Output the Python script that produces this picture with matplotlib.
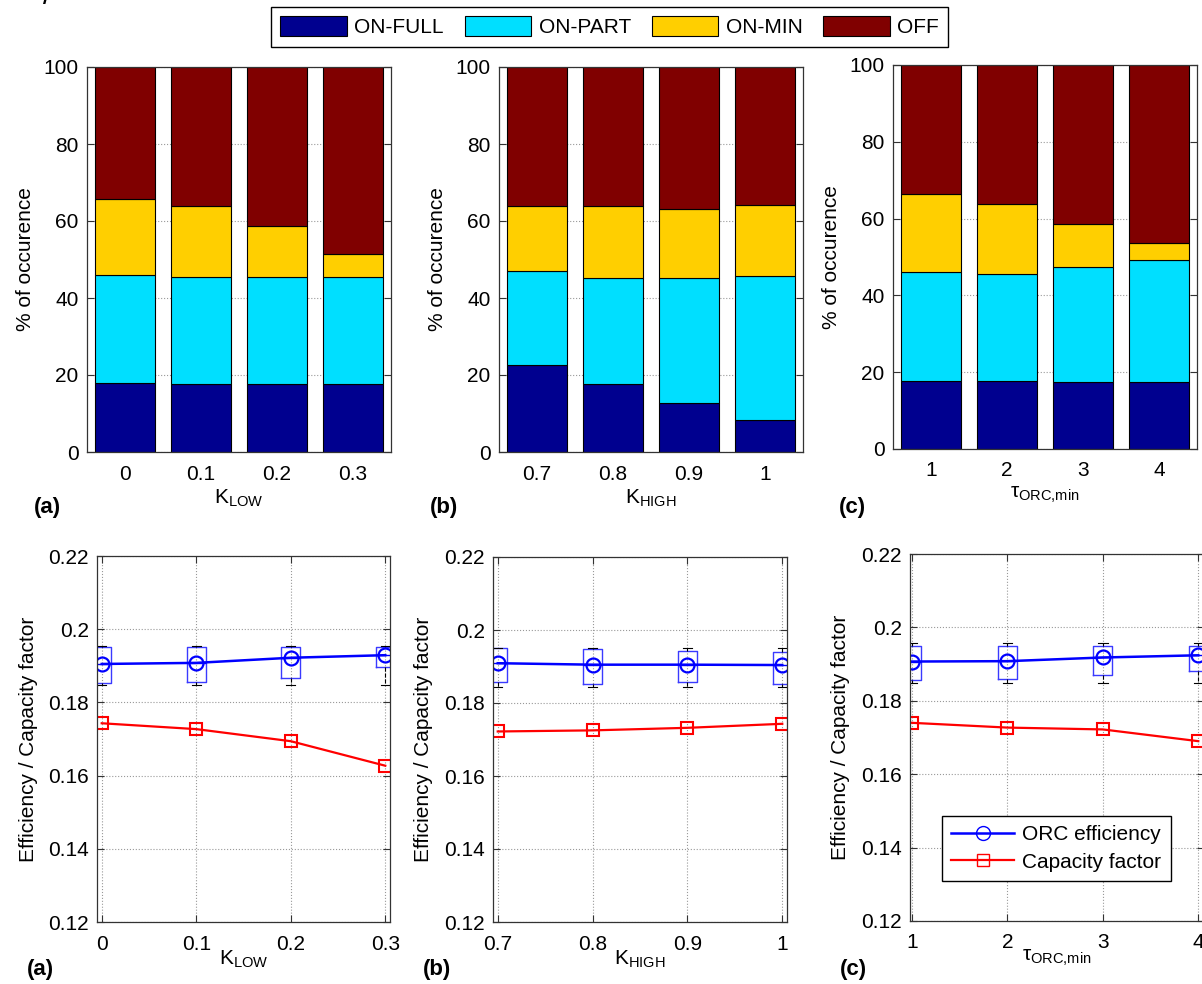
import matplotlib
matplotlib.use('Agg')
import numpy as np
import matplotlib.pyplot as plt
from matplotlib.patches import Patch
from matplotlib.lines import Line2D

plt.rcParams['font.family'] = ['Liberation Sans', 'DejaVu Sans']
plt.rcParams['font.size'] = 15
plt.rcParams['mathtext.default'] = 'regular'

# --- data ---
states = ['ON-FULL', 'ON-PART', 'ON-MIN', 'OFF']
state_colors = ['#00008f', '#00dfff', '#ffcf00', '#800000']

k_low = [0, 0.1, 0.2, 0.3]
k_low_labels = ['0', '0.1', '0.2', '0.3']
k_high = [0.7, 0.8, 0.9, 1.0]
k_high_labels = ['0.7', '0.8', '0.9', '1']
tau_min = [1, 2, 3, 4]
tau_labels = ['1', '2', '3', '4']

# % of occurence per state (stacked)
a_full = [17.8, 17.6, 17.6, 17.6]
a_part = [28.3, 27.9, 27.9, 27.9]
a_min = [19.7, 18.3, 13.1, 5.8]
a_off = [34.2, 36.2, 41.4, 48.7]

b_full = [22.6, 17.6, 12.8, 8.4]
b_part = [24.3, 27.7, 32.5, 37.3]
b_min = [17.1, 18.5, 17.8, 18.5]
b_off = [36.0, 36.2, 36.9, 35.8]

c_full = [17.8, 17.6, 17.4, 17.4]
c_part = [28.2, 27.9, 30.0, 31.9]
c_min = [20.5, 18.3, 11.3, 4.4]
c_off = [33.5, 36.2, 41.3, 46.3]

# ORC efficiency (mean + box stats) and capacity factor
a_eff = [0.1905, 0.1908, 0.1922, 0.1929]
a_q1 = [0.1852, 0.1855, 0.1868, 0.1896]
a_q3 = [0.1951, 0.1951, 0.1951, 0.1951]
a_lo = [0.1848, 0.1848, 0.1848, 0.1848]
a_hi = [0.1954, 0.1954, 0.1954, 0.1954]
a_cap = [0.1743, 0.1727, 0.1694, 0.1627]

b_eff = [0.1909, 0.1905, 0.1905, 0.1904]
b_q1 = [0.1858, 0.1852, 0.1858, 0.1852]
b_q3 = [0.1950, 0.1949, 0.1942, 0.1939]
b_lo = [0.1845, 0.1845, 0.1845, 0.1845]
b_hi = [0.1952, 0.1952, 0.1952, 0.1952]
b_cap = [0.1722, 0.1725, 0.1732, 0.1743]

c_eff = [0.1907, 0.1908, 0.1918, 0.1924]
c_q1 = [0.1856, 0.1859, 0.1870, 0.1880]
c_q3 = [0.1950, 0.1950, 0.1950, 0.1950]
c_lo = [0.1849, 0.1849, 0.1849, 0.1849]
c_hi = [0.1957, 0.1957, 0.1957, 0.1957]
c_cap = [0.1740, 0.1727, 0.1722, 0.1690]

W, H = 1202, 984
fig = plt.figure(figsize=(W / 100, H / 100), dpi=100)


def px_axes(x0, y0, x1, y1):
    return fig.add_axes([x0 / W, 1 - y1 / H, (x1 - x0) / W, (y1 - y0) / H])


def style_axes(ax):
    for s in ax.spines.values():
        s.set_color('0.2')
        s.set_linewidth(0.9)
    ax.tick_params(direction='in', length=5, width=0.8, top=True, right=True,
                   color='0.2', labelsize=15)
    ax.tick_params(axis='x', pad=9)
    ax.tick_params(axis='y', pad=6)
    ax.grid(True, linestyle=':', color='0.6', linewidth=0.8)
    ax.set_axisbelow(True)


def stacked_panel(box, segs, labels, xlabel):
    ax = px_axes(*box)
    pos = np.arange(1, len(labels) + 1)
    bottom = np.zeros(len(labels))
    for vals, col in zip(segs, state_colors):
        ax.bar(pos, vals, 0.8, bottom=bottom, color=col, edgecolor='black',
               linewidth=0.8)
        bottom += np.array(vals)
    ax.set_xlim(0.5, 4.5)
    ax.set_ylim(0, 100)
    ax.set_yticks([0, 20, 40, 60, 80, 100])
    ax.set_xticks(pos)
    ax.set_xticklabels(labels)
    style_axes(ax)
    ax.set_ylabel('% of occurence')
    ax.yaxis.set_label_coords(-0.172, 0.5)
    ax.set_xlabel(xlabel)
    ax.xaxis.set_label_coords(0.5, -0.093)
    return ax


def line_panel(box, x, labels, eff, q1, q3, lo, hi, cap, xlabel, xlim, bw):
    ax = px_axes(*box)
    stats = [dict(med=m, q1=a, q3=b, whislo=l, whishi=h, fliers=[])
             for m, a, b, l, h in zip(eff, q1, q3, lo, hi)]
    ax.bxp(stats, positions=x, widths=bw, capwidths=bw * 0.5, manage_ticks=False,
           boxprops=dict(color='#3a3aff', linewidth=1),
           whiskerprops=dict(color='black', linestyle='--', linewidth=0.8),
           capprops=dict(color='black', linewidth=0.8),
           medianprops=dict(color='blue', linewidth=1))
    ax.plot(x, eff, '-o', color='blue', lw=1.8, ms=10, mfc='none', mew=1.6,
            label='ORC efficiency')
    ax.plot(x, cap, '-s', color='red', lw=1.6, ms=8.5, mfc='none', mew=1.5,
            label='Capacity factor')
    ax.set_xlim(*xlim)
    ax.set_ylim(0.12, 0.22)
    ax.set_yticks([0.12, 0.14, 0.16, 0.18, 0.2, 0.22])
    ax.set_yticklabels(['0.12', '0.14', '0.16', '0.18', '0.2', '0.22'])
    ax.set_xticks(x)
    ax.set_xticklabels(labels)
    style_axes(ax)
    ax.set_ylabel('Efficiency / Capacity factor')
    ax.yaxis.set_label_coords(-0.203, 0.5)
    ax.set_xlabel(xlabel)
    ax.xaxis.set_label_coords(0.5, -0.072)
    return ax


stacked_panel((87, 67, 391, 452), [a_full, a_part, a_min, a_off], k_low_labels,
              '$K_{LOW}$')
stacked_panel((499, 67, 803, 452), [b_full, b_part, b_min, b_off], k_high_labels,
              '$K_{HIGH}$')
stacked_panel((893, 65, 1197, 449), [c_full, c_part, c_min, c_off], tau_labels,
              r'$\tau_{ORC{,}min}$')

line_panel((97, 556, 390, 922), k_low, k_low_labels, a_eff, a_q1, a_q3, a_lo, a_hi,
           a_cap, '$K_{LOW}$', (-0.005, 0.305), 0.02)
line_panel((493, 557, 787, 922), k_high, k_high_labels, b_eff, b_q1, b_q3, b_lo,
           b_hi, b_cap, '$K_{HIGH}$', (0.695, 1.005), 0.02)
line_panel((910, 554, 1204, 921), tau_min, tau_labels, c_eff, c_q1, c_q3,
           c_lo, c_hi, c_cap, r'$\tau_{ORC{,}min}$', (0.98, 4.06), 0.2)

# legends
handles = [Patch(facecolor=c, edgecolor='black', linewidth=0.8) for c in state_colors]
fig.legend(handles, states, ncol=4, loc='upper left',
           bbox_to_anchor=(271 / W, 1 - 7 / H), borderaxespad=0,
           fancybox=False, edgecolor='black', framealpha=1, fontsize=15,
           handlelength=3.2, handleheight=1.1, handletextpad=0.35,
           columnspacing=1.0, borderpad=0.45)

line_handles = [Line2D([], [], color='blue', marker='o', mfc='none', ms=10, lw=1.8),
                Line2D([], [], color='red', marker='s', mfc='none', ms=8.5, lw=1.6)]
fig.legend(line_handles, ['ORC efficiency', 'Capacity factor'], loc='upper left',
           bbox_to_anchor=(942 / W, 1 - 816 / H), borderaxespad=0,
           fancybox=False, edgecolor='black', framealpha=1, fontsize=15,
           handlelength=3.0, handletextpad=0.4, labelspacing=0.4,
           borderpad=0.45, numpoints=1)

# panel tags
for x, y, t in [(47, 508, '(a)'), (444, 508, '(b)'), (852, 508, '(c)'),
                (40, 969, '(a)'), (437, 969, '(b)'), (853, 969, '(c)')]:
    fig.text(x / W, 1 - y / H, t, ha='center', va='center', fontsize=16,
             fontweight='bold')

fig.text(47 / W, 1 - 11 / H, '/', ha='center', va='bottom', fontsize=22)

fig.savefig('out.png', dpi=100)
